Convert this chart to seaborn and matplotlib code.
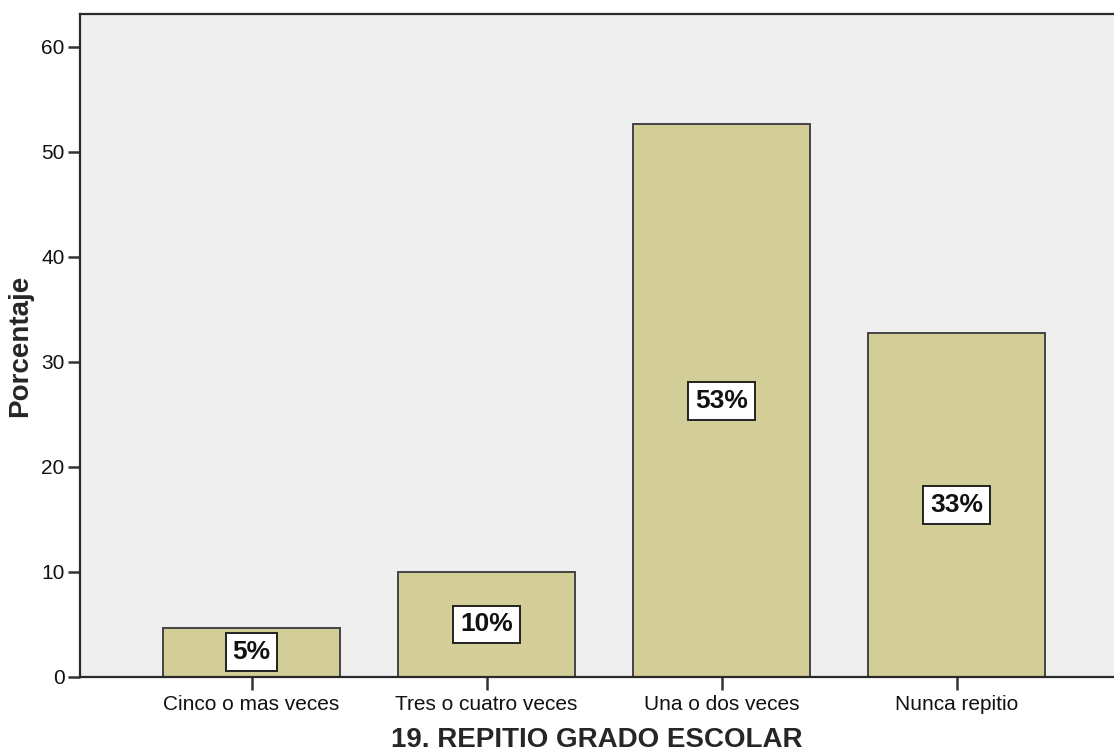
import matplotlib
matplotlib.use("Agg")
import matplotlib.pyplot as plt
import seaborn as sns
import pandas as pd

# values
categorias = ["Cinco o mas veces", "Tres o cuatro veces", "Una o dos veces", "Nunca repitio"]
porcentaje = [4.7, 10.0, 52.6, 32.7]
etiquetas = ["5%", "10%", "53%", "33%"]
yticks = [0, 10, 20, 30, 40, 50, 60]

sns.set_style("white")
plt.rcParams['font.family'] = ['Liberation Sans', 'DejaVu Sans']

df = pd.DataFrame({"cat": categorias, "pct": porcentaje})

fig = plt.figure(figsize=(11.14, 7.51), dpi=100)
ax = fig.add_axes([80 / 1114, 74 / 751, 1034 / 1114, 663 / 751])
ax.set_facecolor("#EFEFEF")

sns.barplot(data=df, x="cat", y="pct", color="#D3CE97", saturation=1,
            width=0.753, edgecolor="#444444", linewidth=1.4, ax=ax)

for i, (v, t) in enumerate(zip(porcentaje, etiquetas)):
    ax.text(i, v / 2, t, ha="center", va="center", fontsize=19, fontweight="bold",
            color="#111111",
            bbox=dict(boxstyle="square,pad=0.26", facecolor="white", edgecolor="#222222", linewidth=1.4))

ax.set_xlim(-0.73, 3.67)
ax.set_ylim(0, 63.1)
ax.set_yticks(yticks)
ax.tick_params(axis="both", which="major", direction="out", length=9, width=1.8,
               color="#333333", labelsize=15, labelcolor="#111111", left=True, bottom=True)
ax.tick_params(axis="x", pad=4)
ax.tick_params(axis="y", pad=2)

for s in ["left", "bottom", "top"]:
    ax.spines[s].set_color("#2A2A2A")
    ax.spines[s].set_linewidth(1.6)
ax.spines["right"].set_visible(False)

ax.set_xlabel("19. REPITIO GRADO ESCOLAR", fontsize=20, fontweight="bold", labelpad=9)
ax.set_ylabel("Porcentaje", fontsize=20, fontweight="bold", labelpad=6)

fig.savefig("out.png", dpi=100)
